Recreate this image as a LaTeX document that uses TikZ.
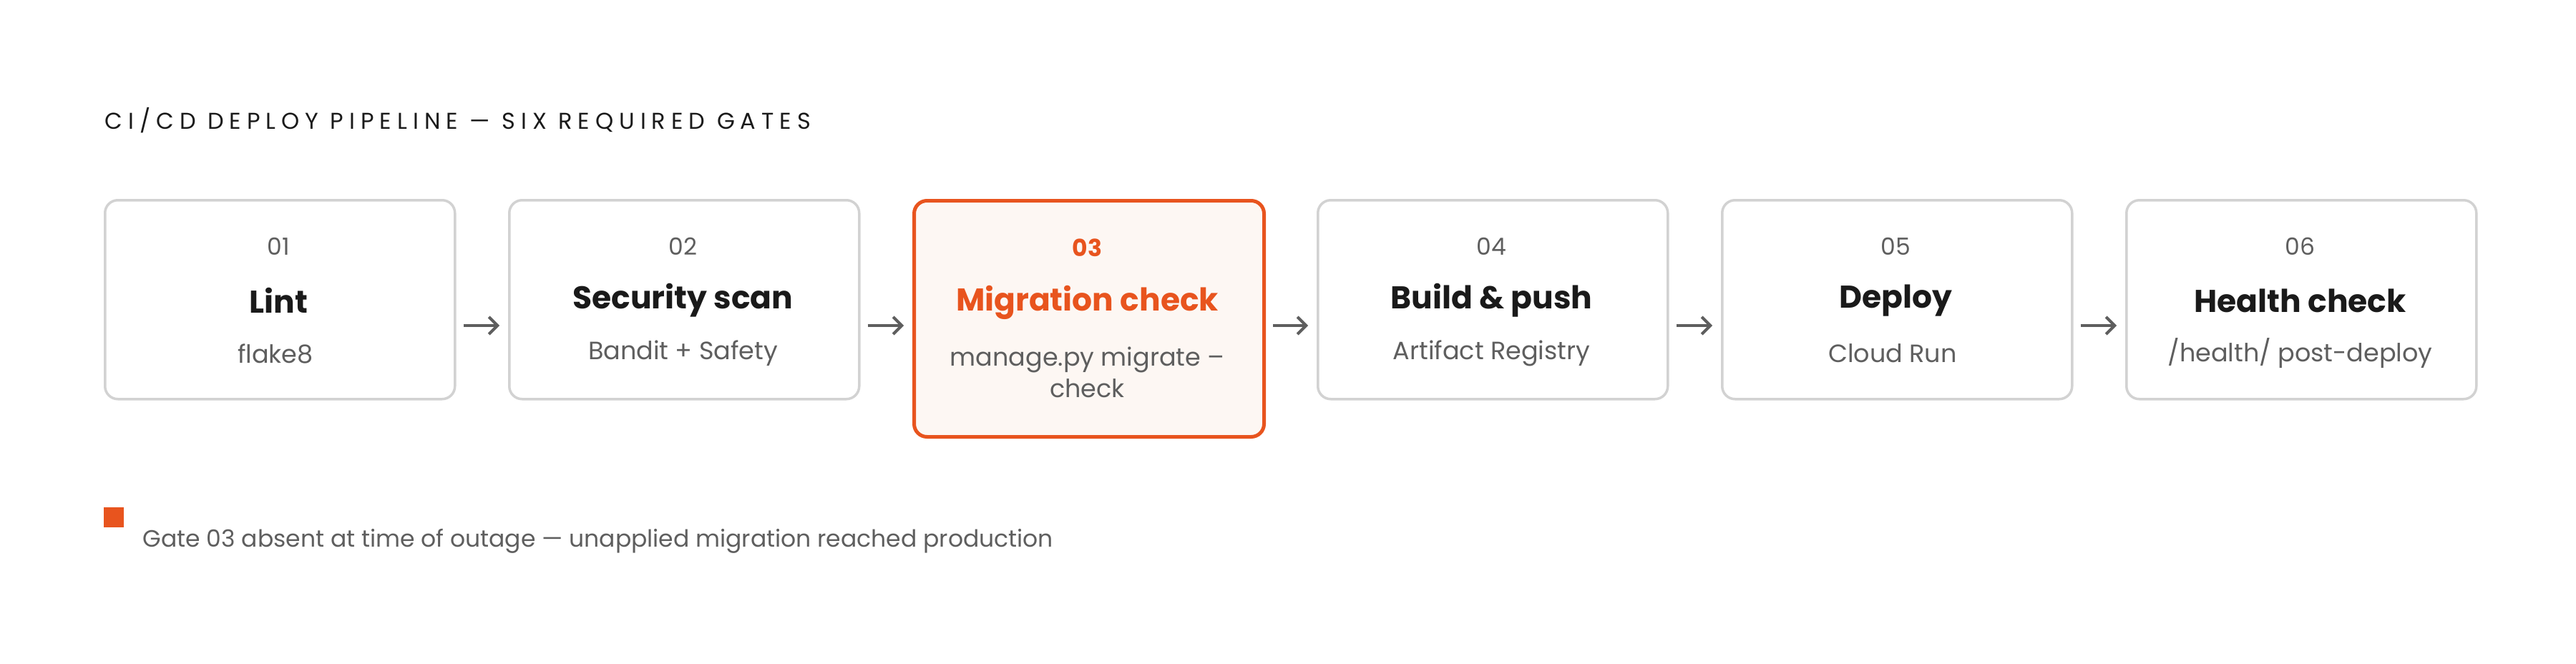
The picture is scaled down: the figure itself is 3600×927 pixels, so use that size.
\documentclass[tikz,border=0pt]{standalone}
\usepackage{fontspec}
\setmainfont{Poppins}
\newfontfamily\spaced[LetterSpace=25]{Poppins}
\usetikzlibrary{arrows.meta}
\definecolor{org}{HTML}{E8541E}
\definecolor{orgfill}{HTML}{FDF7F3}
\definecolor{bord}{HTML}{D2D2D2}
\definecolor{sub}{HTML}{5E5E5E}
\definecolor{dark}{HTML}{1A1A1A}
\begin{document}
\begin{tikzpicture}[x=1pt,y=-1pt,
  box/.style={draw=bord,line width=3.5pt,rounded corners=18pt,fill=white,minimum width=489pt,minimum height=278pt,anchor=north west},
  hot/.style={box,draw=org,line width=5pt,fill=orgfill,minimum height=330pt},
  num/.style={font=\fontsize{33}{33}\selectfont,text=sub},
  ttl/.style={font=\fontsize{44}{44}\selectfont\bfseries,text=dark},
  sb/.style={font=\fontsize{35}{44}\selectfont,text=sub,align=center},
  arr/.style={-{Straight Barb[length=12pt,width=24pt,line width=4pt]},line width=4pt,draw=sub}]
\useasboundingbox (0,0) rectangle (3600,927);
\fill[white] (0,0) rectangle (3600,927);
\node[anchor=west,font=\spaced\fontsize{32}{32}\selectfont,text=dark] (title) at (143,168) {CI/CD DEPLOY PIPELINE — SIX REQUIRED GATES};
\foreach \i/\n/\t/\s in {1/01/Lint/flake8 / pylint,2/02/Security scan/Bandit + Safety,4/04/Build \& push/Artifact Registry,5/05/Deploy/Cloud Run / GKE,6/06/Health check/\slash health\slash{} post-deploy}{
  \pgfmathsetmacro\xx{145+565*(\i-1)}
  \node[box] (b\i) at (\xx,278) {};
  \node[num] (n\i) at (\xx+244.5,344) {\n};
  \node[ttl] (t\i) at (\xx+244.5,420) {\t};
  \node[sb] (s\i) at (\xx+244.5,494) {\s};
}
\node[hot] (b3) at (1275,278) {};
\node[num,text=org,font=\fontsize{33}{33}\selectfont\bfseries] (n3) at (1519.5,346) {03};
\node[ttl,text=org] (t3) at (1519.5,423) {Migration check};
\node[sb] (s3) at (1519.5,520) {manage.py migrate --\\check};
\foreach \a/\b in {1/2,2/3,3/4,4/5,5/6}{
  \draw[arr] ([xshift=10pt]b\a.east|-0,455) -- ([xshift=-12pt]b\b.west|-0,455);
}
\fill[org] (145,709) rectangle node(sq){} (173,737);
\node[anchor=west,font=\fontsize{33}{33}\selectfont,text=sub] (leg) at (196,756) {Gate 03 absent at time of outage — unapplied migration reached production};
\end{tikzpicture}
\end{document}
